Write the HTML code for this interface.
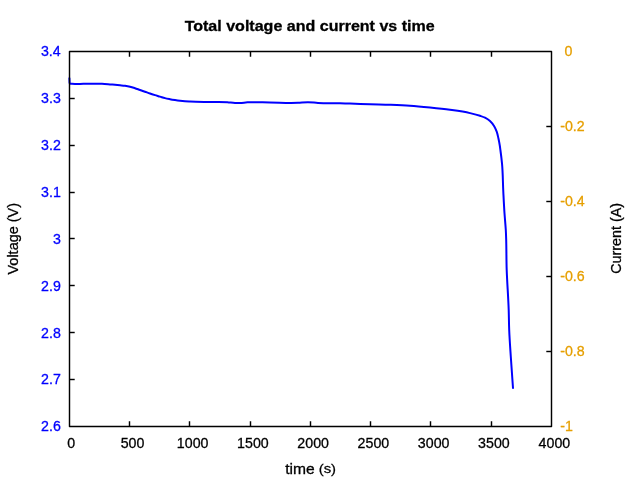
<!DOCTYPE html>
<html><head><meta charset="utf-8"><style>
html,body{margin:0;padding:0;background:#fff;}
svg{display:block;will-change:transform;}

text{font-family:"Liberation Sans",sans-serif;stroke-width:0.3px;paint-order:fill;}
</style></head><body>
<svg width="640" height="480" viewBox="0 0 640 480">
<rect width="640" height="480" fill="#fff"/>
<path d="M69.4,78.3 L69.6,83.0 L70.6,83.8 C72.07,83.87 73.53,83.98 75,84.0 C76.67,84.02 78.33,83.94 80,83.9 C82.92,83.84 85.83,83.73 88.75,83.7 C90.83,83.68 92.92,83.69 95,83.7 C97.33,83.72 99.67,83.70 102,83.8 C104.67,83.91 107.34,84.18 110,84.4 C111.67,84.54 113.33,84.70 115,84.85 C116.67,85.00 118.33,85.14 120,85.3 C121.67,85.46 123.34,85.57 125,85.8 C126.68,86.03 128.36,86.31 130,86.7 C131.69,87.10 133.35,87.66 135,88.2 C136.68,88.75 138.33,89.41 140,90.0 C141.66,90.59 143.33,91.17 145,91.75 C146.67,92.33 148.33,92.94 150,93.5 C151.66,94.06 153.33,94.58 155,95.1 C156.66,95.62 158.34,96.09 160,96.6 C161.67,97.11 163.31,97.71 165,98.15 C166.65,98.58 168.33,98.88 170,99.2 C171.66,99.52 173.33,99.79 175,100.05 C176.66,100.31 178.33,100.55 180,100.75 C181.66,100.95 183.33,101.12 185,101.25 C186.66,101.38 188.33,101.46 190,101.55 C196.66,101.90 203.33,101.84 210,101.95 C215.83,102.05 221.69,101.72 227.5,102.2 C230.00,102.41 232.49,102.97 235,103.05 C236.66,103.10 238.34,103.02 240,102.95 C242.50,102.84 245.00,102.49 247.5,102.35 C254.98,101.92 262.50,102.48 270,102.55 C279.33,102.63 288.68,103.19 298,102.8 C301.33,102.66 304.67,102.18 308,102.2 C311.33,102.22 314.66,102.72 318,102.9 C325.32,103.29 332.67,103.06 340,103.25 C343.33,103.34 346.67,103.44 350,103.55 C356.67,103.76 363.33,104.05 370,104.25 C376.67,104.45 383.34,104.52 390,104.75 C396.67,104.98 403.34,105.20 410,105.65 C416.68,106.10 423.34,106.77 430,107.45 C436.68,108.13 443.36,108.81 450,109.75 C456.69,110.69 463.43,111.56 470,113.1 C473.36,113.89 476.74,114.68 480,115.8 C481.69,116.38 483.42,116.90 485,117.7 C486.77,118.59 488.53,119.68 490,121 C491.65,122.48 493.05,124.35 494.2,126.25 C495.23,127.95 496.02,129.83 496.7,131.7 C497.47,133.83 497.90,136.08 498.4,138.3 C498.90,140.52 499.33,142.76 499.7,145 C499.97,146.66 500.18,148.33 500.4,150 C501.00,154.43 501.57,158.86 502,163.3 C502.91,172.73 502.81,182.24 503.3,191.7 C503.67,198.90 504.01,206.11 504.5,213.3 C504.88,218.87 505.46,224.43 505.8,230 C506.62,243.31 506.22,256.67 506.7,270 C507.18,283.34 508.26,296.66 508.7,310 C508.92,316.66 508.93,323.34 509.2,330 C509.56,338.91 510.22,347.80 510.8,356.7 C511.48,367.14 512.27,377.57 513,388" fill="none" stroke="#0000ff" stroke-width="2" stroke-linecap="round" stroke-linejoin="round"/>
<g fill="none" stroke="#000" stroke-width="1.44" stroke-linecap="round" stroke-linejoin="round">
<path d="M69.5,426.5V51.5H551.5V426.5H69.5" />
</g>
<g fill="none" stroke="#000" stroke-width="1.44" stroke-linecap="butt">
<path d="M129.5,426.5v-5.2M129.5,51.5v5.2"/>
<path d="M189.5,426.5v-5.2M189.5,51.5v5.2"/>
<path d="M250.5,426.5v-5.2M250.5,51.5v5.2"/>
<path d="M310.5,426.5v-5.2M310.5,51.5v5.2"/>
<path d="M370.5,426.5v-5.2M370.5,51.5v5.2"/>
<path d="M430.5,426.5v-5.2M430.5,51.5v5.2"/>
<path d="M491.5,426.5v-5.2M491.5,51.5v5.2"/>
<path d="M69.5,98.5h5.2"/>
<path d="M69.5,145.5h5.2"/>
<path d="M69.5,192.5h5.2"/>
<path d="M69.5,238.5h5.2"/>
<path d="M69.5,285.5h5.2"/>
<path d="M69.5,332.5h5.2"/>
<path d="M69.5,379.5h5.2"/>
<path d="M551.5,126.5h-5.2"/>
<path d="M551.5,201.5h-5.2"/>
<path d="M551.5,276.5h-5.2"/>
<path d="M551.5,351.5h-5.2"/>
</g>
<text transform="translate(184.64,30.9) scale(1.07,1)" font-size="15.0" font-weight="bold" fill="#000" stroke="#000">Total voltage and current vs time</text>
<text transform="translate(40.89,56.27) scale(0.9480,1.0000)" font-size="15.0" font-weight="normal" fill="#0000ff" stroke="#0000ff">3.4</text>
<text transform="translate(41.10,103.15) scale(0.9480,1.0000)" font-size="15.0" font-weight="normal" fill="#0000ff" stroke="#0000ff">3.3</text>
<text transform="translate(41.10,150.02) scale(0.9480,1.0000)" font-size="15.0" font-weight="normal" fill="#0000ff" stroke="#0000ff">3.2</text>
<text transform="translate(41.10,196.90) scale(0.9480,1.0000)" font-size="15.0" font-weight="normal" fill="#0000ff" stroke="#0000ff">3.1</text>
<text transform="translate(52.98,243.77) scale(0.9480,1.0000)" font-size="15.0" font-weight="normal" fill="#0000ff" stroke="#0000ff">3</text>
<text transform="translate(41.10,290.65) scale(0.9480,1.0000)" font-size="15.0" font-weight="normal" fill="#0000ff" stroke="#0000ff">2.9</text>
<text transform="translate(41.10,337.53) scale(0.9480,1.0000)" font-size="15.0" font-weight="normal" fill="#0000ff" stroke="#0000ff">2.8</text>
<text transform="translate(41.10,384.40) scale(0.9480,1.0000)" font-size="15.0" font-weight="normal" fill="#0000ff" stroke="#0000ff">2.7</text>
<text transform="translate(41.10,431.27) scale(0.9480,1.0000)" font-size="15.0" font-weight="normal" fill="#0000ff" stroke="#0000ff">2.6</text>
<text transform="translate(564.50,56.17) scale(0.9480,1.0000)" font-size="15.0" font-weight="normal" fill="#e69f00" stroke="#e69f00">0</text>
<text transform="translate(560.23,131.18) scale(0.9480,1.0000)" font-size="15.0" font-weight="normal" fill="#e69f00" stroke="#e69f00">-0.2</text>
<text transform="translate(560.23,206.18) scale(0.9480,1.0000)" font-size="15.0" font-weight="normal" fill="#e69f00" stroke="#e69f00">-0.4</text>
<text transform="translate(560.23,281.18) scale(0.9480,1.0000)" font-size="15.0" font-weight="normal" fill="#e69f00" stroke="#e69f00">-0.6</text>
<text transform="translate(560.23,356.18) scale(0.9480,1.0000)" font-size="15.0" font-weight="normal" fill="#e69f00" stroke="#e69f00">-0.8</text>
<text transform="translate(560.23,431.18) scale(0.9480,1.0000)" font-size="15.0" font-weight="normal" fill="#e69f00" stroke="#e69f00">-1</text>
<text transform="translate(67.35,447.93) scale(0.9480,1.0000)" font-size="15.0" font-weight="normal" fill="#000" stroke="#000">0</text>
<text transform="translate(120.68,447.93) scale(0.9480,1.0000)" font-size="15.0" font-weight="normal" fill="#000" stroke="#000">500</text>
<text transform="translate(176.87,447.93) scale(0.9480,1.0000)" font-size="15.0" font-weight="normal" fill="#000" stroke="#000">1000</text>
<text transform="translate(237.12,447.93) scale(0.9480,1.0000)" font-size="15.0" font-weight="normal" fill="#000" stroke="#000">1500</text>
<text transform="translate(297.37,447.93) scale(0.9480,1.0000)" font-size="15.0" font-weight="normal" fill="#000" stroke="#000">2000</text>
<text transform="translate(357.62,447.93) scale(0.9480,1.0000)" font-size="15.0" font-weight="normal" fill="#000" stroke="#000">2500</text>
<text transform="translate(417.87,447.93) scale(0.9480,1.0000)" font-size="15.0" font-weight="normal" fill="#000" stroke="#000">3000</text>
<text transform="translate(478.12,447.93) scale(0.9480,1.0000)" font-size="15.0" font-weight="normal" fill="#000" stroke="#000">3500</text>
<text transform="translate(538.59,447.93) scale(0.9480,1.0000)" font-size="15.0" font-weight="normal" fill="#000" stroke="#000">4000</text>
<text transform="translate(17.96,274.51) rotate(-90) scale(0.9656,1)" font-size="15.0" fill="#000" stroke="#000">Voltage (V)</text>
<text transform="translate(621.26,273.75) rotate(-90) scale(0.9563,1)" font-size="15.0" fill="#000" stroke="#000">Current (A)</text>
<text transform="translate(285.17,473.60) scale(1.0419,1.0000)" font-size="15.0" fill="#000" stroke="#000">time</text>
<text transform="translate(318.71,473.20) scale(0.9888,0.9000)" font-size="15.0" fill="#000" stroke="#000">(s)</text>
</svg>
</body></html>
